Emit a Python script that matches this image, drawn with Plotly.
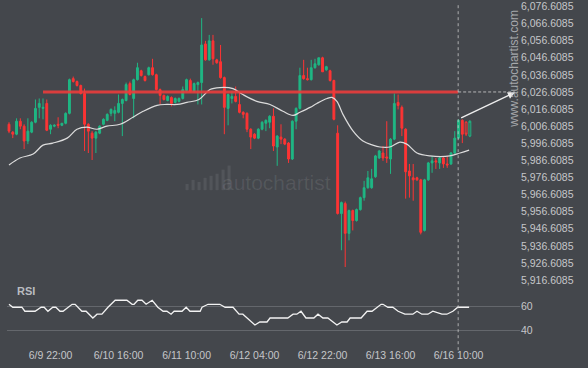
import plotly.graph_objects as go

# ---------------- data ----------------
opens = [6007.7, 6003.1, 6001.9, 6009.5, 6006.6, 5997.9, 6003.1, 6008.9, 6017.6, 6017.0,
         6019.9, 6004.8, 6006.6, 6007.7, 6007.1, 6008.3, 6014.1, 6034.4, 6032.7, 6030.4,
         6025.7, 6007.7, 6002.5, 5999.6, 6002.5, 6007.7, 6010.0, 6014.1, 6014.1, 6014.7,
         6019.9, 6021.6, 6031.5, 6022.8, 6033.8, 6039.0, 6035.6, 6036.7, 6040.8, 6036.7,
         6028.0, 6024.6, 6021.6, 6023.4, 6020.5, 6021.1, 6022.8, 6027.5, 6033.3, 6026.9,
         6030.9, 6032.1, 6054.7, 6045.4, 6056.5, 6045.4, 6044.3, 6035.0, 6017.0, 6022.8,
         6024.0, 6019.3, 6014.7, 6014.1, 6004.8, 6001.9, 5999.6, 6004.8, 6008.3, 6008.9,
         6012.4, 5994.4, 6000.2, 5999.0, 5996.7, 5987.4, 6009.5, 6017.0, 6036.2, 6034.4,
         6033.8, 6040.8, 6042.5, 6046.6, 6039.6, 6039.0, 6033.3, 6002.5, 5955.5, 5961.3,
         5943.9, 5957.2, 5951.4, 5957.8, 5964.8, 5970.6, 5970.6, 5977.0, 5988.0, 5990.9,
         5988.6, 5987.4, 5999.0, 6020.5, 6017.6, 6004.8, 5980.4, 5976.4, 5976.4, 5975.2,
         5945.6, 5975.2, 5985.1, 5986.3, 5985.1, 5988.0, 5984.5, 5984.5, 5990.9, 5999.6,
         6010.0, 6008.9, 6000.8]
highs = [6008.9, 6003.7, 6011.2, 6011.2, 6007.7, 6011.2, 6009.5, 6022.2, 6022.8, 6022.8,
         6022.2, 6007.7, 6007.7, 6011.8, 6008.3, 6014.7, 6034.4, 6035.6, 6033.3, 6030.9,
         6028.6, 6008.3, 6003.7, 6003.7, 6007.1, 6011.2, 6014.1, 6017.0, 6018.2, 6025.1,
         6022.8, 6032.1, 6032.7, 6034.4, 6043.7, 6039.6, 6036.2, 6041.4, 6046.0, 6037.3,
         6028.6, 6025.1, 6024.6, 6024.0, 6023.4, 6023.4, 6029.8, 6034.4, 6034.4, 6032.1,
         6032.7, 6069.8, 6056.5, 6060.0, 6060.0, 6046.0, 6054.1, 6035.6, 6025.7, 6026.9,
         6029.8, 6026.3, 6015.3, 6014.7, 6005.4, 6002.5, 6005.4, 6009.5, 6010.6, 6013.0,
         6017.0, 6001.3, 6007.7, 5999.6, 5997.3, 6010.0, 6017.6, 6040.8, 6045.4, 6040.8,
         6045.4, 6046.0, 6046.6, 6047.2, 6041.9, 6039.6, 6033.8, 6007.1, 5962.5, 5962.5,
         5957.8, 5957.8, 5958.4, 5965.4, 5974.6, 5980.4, 5981.6, 5989.8, 5992.7, 5995.0,
         6009.5, 5999.6, 6025.7, 6025.1, 6018.7, 6005.4, 5984.5, 5984.5, 5977.0, 5975.8,
         5975.8, 5985.7, 5989.2, 5988.0, 5988.6, 5988.6, 5989.2, 5991.5, 6003.7, 6010.6,
         6010.6, 6009.5, 6010.0]
lows = [6002.5, 5999.6, 6001.3, 6004.8, 5993.2, 5996.1, 6002.5, 6008.3, 6011.2, 6010.6,
        6003.7, 6001.9, 6006.0, 6005.4, 6006.6, 6007.7, 6013.5, 6032.1, 6029.8, 6025.1,
        5992.1, 5990.9, 5986.8, 5990.9, 6001.9, 6007.1, 6009.5, 6012.4, 6009.5, 6014.1,
        6000.8, 6021.1, 6024.6, 6011.2, 6033.3, 6035.6, 6032.7, 6036.2, 6036.2, 6027.5,
        6019.3, 6021.6, 6021.1, 6018.2, 6019.9, 6020.5, 6022.2, 6026.9, 6026.3, 6026.3,
        6019.3, 6019.3, 6044.9, 6044.9, 6042.5, 6043.1, 6034.4, 6001.9, 6007.1, 6019.9,
        6020.5, 6014.1, 6011.2, 6003.1, 5993.2, 5999.0, 5999.0, 6004.2, 6003.7, 6005.4,
        5992.1, 5983.4, 5996.1, 5995.5, 5985.1, 5986.8, 6004.8, 6016.4, 6033.8, 6033.3,
        6033.3, 6040.2, 6042.0, 6038.4, 6039.0, 6032.7, 6010.0, 5954.9, 5934.0, 5924.2,
        5939.8, 5945.6, 5950.8, 5957.2, 5963.0, 5970.0, 5970.0, 5976.4, 5987.4, 5986.3,
        5985.1, 5978.7, 5998.4, 6016.4, 6000.8, 5964.2, 5964.8, 5963.0, 5974.6, 5943.3,
        5945.0, 5974.6, 5979.3, 5981.6, 5981.6, 5982.2, 5982.2, 5983.9, 5990.3, 5999.0,
        5996.7, 6000.8, 6000.2]
closes = [6003.7, 6001.9, 6009.5, 6006.6, 5997.9, 6003.7, 6008.9, 6017.0, 6019.9, 6017.6,
          6004.2, 6007.1, 6007.1, 6007.1, 6008.3, 6014.1, 6033.8, 6032.7, 6030.4, 6025.7,
          6007.7, 6003.7, 5999.6, 6003.1, 6006.6, 6010.6, 6013.5, 6016.4, 6015.8, 6019.9,
          6022.2, 6030.9, 6025.1, 6033.8, 6040.8, 6036.2, 6033.3, 6040.8, 6036.7, 6028.0,
          6024.6, 6022.2, 6024.0, 6019.9, 6022.8, 6022.8, 6028.0, 6033.8, 6026.9, 6031.5,
          6032.1, 6054.1, 6045.4, 6056.5, 6046.0, 6043.7, 6035.0, 6017.6, 6025.1, 6024.0,
          6021.1, 6014.7, 6013.5, 6004.8, 6000.2, 5999.6, 6004.8, 6008.9, 6010.0, 6012.4,
          5995.0, 6000.8, 5999.0, 5996.1, 5987.4, 6009.5, 6017.0, 6036.2, 6034.4, 6033.8,
          6040.8, 6043.1, 6046.6, 6038.4, 6041.4, 6033.3, 6010.6, 5955.5, 5961.9, 5943.9,
          5957.2, 5951.4, 5957.8, 5964.8, 5970.6, 5976.4, 5975.8, 5989.2, 5992.1, 5988.0,
          5988.0, 5999.0, 6019.9, 6018.7, 6005.4, 5979.9, 5977.5, 5975.2, 5975.2, 5944.5,
          5975.2, 5985.1, 5986.3, 5985.7, 5988.0, 5984.5, 5983.9, 5990.9, 5999.6, 6010.0,
          6001.9, 6001.9, 6009.5]
n_closed = 121  # candles after this are still forming (drawn hollow)

ma_pos = [0, 2.9, 6.4, 9.0, 11.6, 15.4, 18.0, 20.6, 23.3, 25.9, 29.4, 32.8, 35.5, 39.2,
          41.8, 44.5, 47.1, 50.3, 53.2, 55.8, 59.3, 61.9, 65.6, 69.1, 72.5, 75.2, 77.0,
          79.7, 81.5, 84.2, 85.5, 86.8, 88.4, 91.1, 93.7, 96.3, 98.2, 100.8, 103.5,
          105.3, 108.0, 111.4, 116.7, 119.4, 121.8]
ma_val = [5983.9, 5988.0, 5990.3, 5995.5, 5996.7, 5999.6, 6004.8, 6006.0, 6004.8, 6006.6,
          6007.7, 6011.8, 6015.3, 6018.8, 6019.3, 6019.3, 6020.5, 6022.2, 6028.0, 6029.2,
          6028.6, 6025.1, 6021.1, 6019.3, 6015.3, 6012.9, 6014.7, 6017.6, 6019.9, 6022.8,
          6023.4, 6021.1, 6013.5, 6003.7, 5997.9, 5995.5, 5994.4, 5994.4, 5997.3, 5996.1,
          5990.9, 5989.2, 5989.2, 5990.9, 5992.6]

rsi_pos = [0, 1, 3.4, 4.2, 6.9, 8.5, 9.3, 10.3, 11.6, 12.4, 13.5, 14.3, 16.7, 17.5, 19.3,
           20.4, 22.2, 23.3, 24.6, 26.2, 28.1, 31.2, 32.6, 33.1, 34.1, 35.2, 36.3, 37.9,
           39.4, 40.8, 41.8, 42.9, 43.7, 45.8, 46.9, 47.9, 50.6, 51.1, 52.7, 55.8, 57.2,
           59.3, 60.9, 61.9, 65.1, 66.4, 68.3, 69.1, 73.8, 75.2, 76.2, 77.3, 78.6, 80.7,
           81.8, 83.1, 84.4, 86.8, 88.1, 89.5, 90.3, 93.2, 94.8, 96.1, 98.5, 99.0, 100.3,
           101.6, 103.0, 104.8, 106.9, 108.0, 109.3, 110.9, 112.2, 114.6, 115.9, 117.5,
           118.8, 121.8]
rsi_val = [62.0, 59.5, 59.5, 56.1, 56.1, 59.5, 59.5, 56.1, 59.5, 59.5, 56.1, 56.1, 62.0,
           62.0, 56.1, 56.1, 50.4, 53.6, 53.6, 59.5, 65.4, 65.4, 62.0, 62.0, 65.4, 65.4,
           62.0, 65.4, 59.5, 56.1, 56.1, 53.6, 56.1, 56.1, 59.5, 56.1, 56.1, 59.5, 62.0,
           62.0, 59.5, 59.5, 53.6, 53.6, 44.5, 47.0, 47.0, 50.4, 50.4, 53.6, 53.6, 56.1,
           50.4, 50.4, 53.6, 50.4, 50.4, 44.5, 47.0, 47.0, 50.4, 50.4, 56.1, 56.1, 62.0,
           62.0, 59.5, 59.5, 56.1, 53.6, 53.6, 56.1, 53.6, 53.6, 56.1, 53.6, 53.6, 56.1,
           59.5, 59.5]

tick_idx = [11, 29, 47, 65, 83, 101, 119]
tick_labels = ["6/9 22:00", "6/10 16:00", "6/11 10:00", "6/12 04:00",
               "6/12 22:00", "6/13 16:00", "6/16 10:00"]
price_ticks = [5916.6085 + 10 * k for k in range(17)]
rsi_ticks = [40, 60]

resistance_level = 6026.6085
pattern_start_idx = 9.0
pattern_end_idx = 118.9
forecast_start = (119.3, 6011.0)
forecast_end = (133.9, 6026.3)

# ---------------- style ----------------
BG = "#44474c"
GREEN = "#1fb784"
RED = "#fd3434"
TXT = "#c4c6c9"
FONT = "Arial, Liberation Sans, sans-serif"

idx = list(range(len(opens)))
fig = go.Figure()

fig.add_trace(go.Candlestick(
    x=idx[:n_closed], open=opens[:n_closed], high=highs[:n_closed],
    low=lows[:n_closed], close=closes[:n_closed],
    increasing=dict(line=dict(color=GREEN, width=1), fillcolor=GREEN),
    decreasing=dict(line=dict(color=RED, width=1), fillcolor=RED),
    whiskerwidth=0, xaxis="x", yaxis="y", showlegend=False, hoverinfo="skip"))
fig.add_trace(go.Candlestick(
    x=idx[n_closed:], open=opens[n_closed:], high=highs[n_closed:],
    low=lows[n_closed:], close=closes[n_closed:],
    increasing=dict(line=dict(color=GREEN, width=1), fillcolor=BG),
    decreasing=dict(line=dict(color=RED, width=1), fillcolor=BG),
    whiskerwidth=0, xaxis="x", yaxis="y", showlegend=False, hoverinfo="skip"))

fig.add_trace(go.Scatter(x=ma_pos, y=ma_val, mode="lines",
                         line=dict(color="#dcdcdc", width=1.2, shape="spline"),
                         xaxis="x", yaxis="y", showlegend=False, hoverinfo="skip"))

# resistance line
fig.add_trace(go.Scatter(x=[pattern_start_idx, pattern_end_idx],
                         y=[resistance_level, resistance_level], mode="lines",
                         line=dict(color="rgba(235,60,60,0.9)", width=3),
                         xaxis="x", yaxis="y", showlegend=False, hoverinfo="skip"))
# dashed extension
fig.add_trace(go.Scatter(x=[pattern_end_idx, forecast_end[0]],
                         y=[resistance_level, resistance_level], mode="lines",
                         line=dict(color="rgba(210,210,210,0.8)", width=1, dash="3px,2px"),
                         xaxis="x", yaxis="y", showlegend=False, hoverinfo="skip"))

fig.add_trace(go.Scatter(x=rsi_pos, y=rsi_val, mode="lines",
                         line=dict(color="#f2f2f2", width=1.3),
                         xaxis="x2", yaxis="y2", showlegend=False, hoverinfo="skip"))

xr = [-0.53, 135.27]
fig.update_layout(
    width=588, height=368,
    margin=dict(l=7, r=68, t=0, b=26, autoexpand=False),
    paper_bgcolor=BG, plot_bgcolor=BG,
    font=dict(family=FONT, color=TXT, size=11),
    xaxis=dict(domain=[0, 1], range=xr, anchor="y", showgrid=False, zeroline=False,
               showticklabels=False, showline=False, rangeslider=dict(visible=False),
               fixedrange=True, automargin=False),
    yaxis=dict(domain=[0.1667, 1], range=[5913.7, 6080.4], side="right",
               tickvals=price_ticks, tickformat=",.4f", showgrid=False, zeroline=False,
               showline=False, ticks="", tickfont=dict(size=10.5, color=TXT),
               automargin=False, ticklabeloverflow="allow"),
    xaxis2=dict(domain=[0, 1], range=xr, anchor="y2", showgrid=False, zeroline=False,
                tickvals=tick_idx, ticktext=tick_labels, ticks="outside", ticklen=3,
                tickcolor=BG, showline=False, tickfont=dict(size=10.5, color=TXT),
                automargin=False),
    yaxis2=dict(domain=[0, 0.158], range=[30.1, 75.8], side="right", tickvals=rsi_ticks,
                showgrid=True, gridcolor="#64676c", gridwidth=1, zeroline=False,
                showline=False, ticks="", tickfont=dict(size=10.5, color=TXT),
                automargin=False),
)

# vertical dashed line at the pattern end
fig.add_shape(type="line", xref="x", yref="paper", x0=pattern_end_idx, x1=pattern_end_idx,
              y0=-0.024, y1=0.988, line=dict(color="rgba(210,210,210,0.75)", width=1,
                                               dash="3px,3px"))

# forecast arrow
fig.add_annotation(x=forecast_end[0], y=forecast_end[1], ax=forecast_start[0],
                   ay=forecast_start[1], xref="x", yref="y", axref="x", ayref="y",
                   showarrow=True, arrowhead=2, arrowsize=1, arrowwidth=1.4,
                   arrowcolor="#eeeeee", text="")

# RSI title
fig.add_annotation(text="<b>RSI</b>", xref="paper", yref="paper", x=0.016, y=0.149,
                   xanchor="left", yanchor="middle", showarrow=False,
                   font=dict(size=11, color="#b9bcc0"))

# watermark
fig.add_annotation(text="autochartist", xref="paper", yref="paper", x=0.525, y=0.465,
                   xanchor="center", yanchor="middle", showarrow=False,
                   font=dict(size=21, color="rgba(255,255,255,0.09)"))
for k, h in enumerate([3, 5, 4, 6, 7, 8, 10, 12]):
    x0 = 0.348 + k * 0.0117
    fig.add_shape(type="rect", xref="paper", yref="paper", x0=x0, x1=x0 + 0.006,
                  y0=0.444, y1=0.444 + h * 0.006, line=dict(width=0),
                  fillcolor="rgba(255,255,255,0.08)")
fig.add_annotation(text="www.autochartist.com", xref="paper", yref="paper", x=0.989,
                   y=0.80, textangle=-90, showarrow=False, xanchor="center",
                   yanchor="middle", font=dict(size=12, color="rgba(200,202,205,0.75)"))

fig.write_html("out.html",
               config={"displayModeBar": False, "staticPlot": True},
               post_script="document.body.style.margin='0';"
                           "document.body.style.overflow='hidden';"
                           "document.body.style.background='" + BG + "';")
